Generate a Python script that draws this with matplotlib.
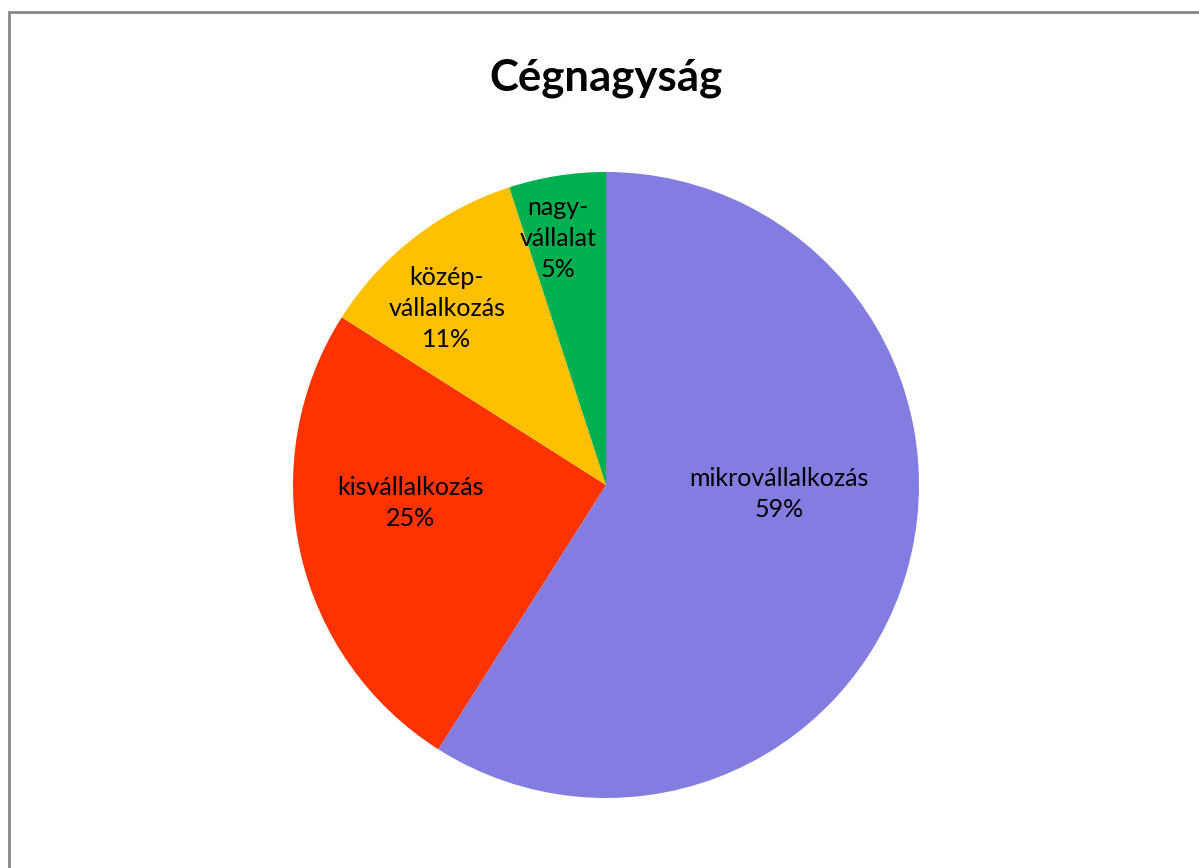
import matplotlib
matplotlib.use("Agg")
import matplotlib.pyplot as plt
from matplotlib.patches import Rectangle

categories = ["mikrovállalkozás", "kisvállalkozás", "közép-\nvállalkozás", "nagy-\nvállalat"]
values = [59, 25, 11, 5]
colors = ["#837DE1", "#FF3300", "#FFC000", "#00B050"]
title = "Cégnagyság"

# label positions (in pie-radius units)
label_pos = [(0.553, -0.029), (-0.626, -0.058), (-0.508, 0.565), (-0.153, 0.789)]

W, H = 1199, 868
fig = plt.figure(figsize=(W / 100, H / 100), dpi=100)
plt.rcParams['font.family'] = ['Lato', 'DejaVu Sans']

# outer border
fig.patches.append(Rectangle((9 / W, -0.1), 1.2, 1 - 12 / H + 0.1, transform=fig.transFigure,
                             fill=False, edgecolor="#878787", linewidth=2))

cx, cy, r = 606, 485, 313
ax = fig.add_axes([(cx - r) / W, (H - cy - r) / H, 2 * r / W, 2 * r / H])
ax.pie(values, colors=colors, startangle=90, counterclock=False, radius=1,
       wedgeprops=dict(linewidth=0))
ax.set_xlim(-1, 1)
ax.set_ylim(-1, 1)
ax.axis("off")

for cat, v, (lx, ly) in zip(categories, values, label_pos):
    ax.text(lx, ly, f"{cat}\n{v}%", ha="center", va="center", fontsize=18,
            linespacing=1.42, color="black")

fig.text(606 / W, 1 - 90 / H, title, ha="center", va="baseline", fontsize=31.5, fontweight="bold")

fig.savefig("out.png", dpi=100)
